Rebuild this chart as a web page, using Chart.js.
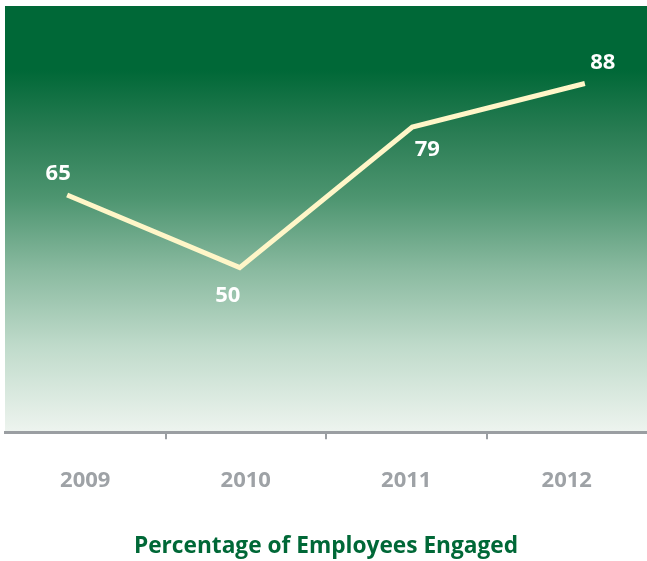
<!DOCTYPE html>
<html>
<head>
<meta charset="utf-8">
<script src="https://cdn.jsdelivr.net/npm/chart.js@4"></script>
<style>
  html, body { margin: 0; padding: 0; background: #ffffff; }
  #wrap { width: 647px; height: 561px; }
</style>
</head>
<body>
<div id="wrap"><canvas id="chart"></canvas></div>
<script>
// Engagement survey results by year
const years = ['2009', '2010', '2011', '2012'];
const yearValues = [2009, 2010, 2011, 2012];
const engaged = [65, 50, 79, 88];
// Where each value label sits relative to its point (px)
const labelOffsets = [[-9, -21], [-12, 28], [15, 23], [18, -21]];

const GREEN = '#006837';
const AXIS_GRAY = '#9a9ea2';

// Green-to-pale vertical fill behind the plot
const backdrop = {
  id: 'backdrop',
  beforeDraw(chart) {
    const { ctx, chartArea: a } = chart;
    const g = ctx.createLinearGradient(0, a.top, 0, a.bottom);
    g.addColorStop(0.00, '#006837');
    g.addColorStop(0.15, '#006837');
    g.addColorStop(0.30, '#2a7d54');
    g.addColorStop(0.45, '#4d9570');
    g.addColorStop(0.62, '#8abaa0');
    g.addColorStop(0.80, '#c0dbcb');
    g.addColorStop(1.00, '#eef4ef');
    ctx.save();
    ctx.fillStyle = g;
    ctx.fillRect(a.left, a.top, a.right - a.left, a.bottom - a.top);
    ctx.restore();
  }
};

// Value labels next to each point
const valueLabels = {
  id: 'valueLabels',
  afterDatasetsDraw(chart) {
    const { ctx } = chart;
    const meta = chart.getDatasetMeta(0);
    ctx.save();
    ctx.fillStyle = '#ffffff';
    ctx.font = 'bold 22px "Open Sans"';
    ctx.textAlign = 'center';
    ctx.textBaseline = 'middle';
    meta.data.forEach((pt, i) => {
      const [dx, dy] = labelOffsets[i];
      ctx.fillText(String(engaged[i]), pt.x + dx, pt.y + dy);
    });
    ctx.restore();
  }
};

new Chart(document.getElementById('chart'), {
  type: 'line',
  data: {
    labels: years,
    datasets: [{
      data: yearValues.map((x, i) => ({ x, y: engaged[i] })),
      xAxisID: 'xLine',
      borderColor: '#fff6c8',
      borderWidth: 5,
      borderCapStyle: 'butt',
      borderJoinStyle: 'miter',
      pointRadius: 0,
      tension: 0,
      fill: false
    }]
  },
  options: {
    responsive: true,
    maintainAspectRatio: false,
    animation: false,
    layout: { padding: { top: 6, left: 5, right: 0, bottom: 0 } },
    plugins: {
      legend: { display: false },
      tooltip: { enabled: false },
      title: {
        display: true,
        position: 'bottom',
        text: 'Percentage of Employees Engaged',
        color: GREEN,
        font: { family: '"Open Sans"', size: 22.7, weight: 'bold' },
        padding: { top: 11, bottom: 1 }
      }
    },
    scales: {
      x: {
        type: 'category',
        offset: true,
        grid: {
          offset: true,
          drawOnChartArea: false,
          drawTicks: true,
          tickLength: 7,
          lineWidth: 2,
          color: (c) => (c.index >= 1 && c.index < years.length) ? AXIS_GRAY : 'rgba(0,0,0,0)'
        },
        border: { display: true, color: AXIS_GRAY, width: 3 },
        ticks: {
          color: '#9ea2a6',
          padding: 28,
          font: { family: '"Open Sans"', size: 22, weight: 'bold' }
        }
      },
      xLine: {
        type: 'linear',
        display: false,
        min: 2008.64,
        max: 2012.36
      },
      y: {
        display: false,
        min: 16,
        max: 104
      }
    }
  },
  plugins: [backdrop, valueLabels]
});
</script>
</body>
</html>
